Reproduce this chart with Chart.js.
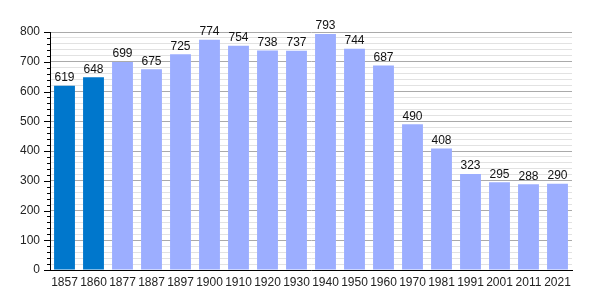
<!DOCTYPE html>
<html>
<head>
<meta charset="utf-8">
<script src="https://cdn.jsdelivr.net/npm/chart.js@4"></script>
<style>
html,body{margin:0;padding:0;background:#fff;}
#wrap{width:600px;height:300px;position:relative;}
</style>
</head>
<body>
<div id="wrap"><canvas id="chart"></canvas></div>
<script>
// population par année de recensement
const years = ["1857","1860","1877","1887","1897","1900","1910","1920","1930","1940","1950","1960","1970","1981","1991","2001","2011","2021"];
const population = [619,648,699,675,725,774,754,738,737,793,744,687,490,408,323,295,288,290];
const yTicks = [0,100,200,300,400,500,600,700,800];

const barColors = years.map(y => (+y < 1870 ? "#0077cc" : "#9caeff"));
const font = "'Liberation Sans', Arial, sans-serif";

const valueLabels = {
  id: "valueLabels",
  afterDatasetsDraw(chart){
    const ctx = chart.ctx, meta = chart.getDatasetMeta(0);
    ctx.save();
    ctx.font = "12px " + font;
    ctx.fillStyle = "#111";
    ctx.textAlign = "center"; ctx.textBaseline = "bottom";
    meta.data.forEach((bar,i)=>{ ctx.fillText(population[i], bar.x, bar.y - 2); });
    ctx.restore();
  }
};

const axisTicks = {
  id: "axisTicks",
  afterDraw(chart){
    const ctx = chart.ctx, y = chart.scales.y, left = chart.chartArea.left;
    ctx.save();
    ctx.strokeStyle = "#000"; ctx.lineWidth = 1;
    for(let v=0; v<=800; v+=20){
      const p = Math.round(y.getPixelForValue(v)) + 0.5;
      const len = v % 100 === 0 ? 6 : 3;
      ctx.beginPath(); ctx.moveTo(left - len, p); ctx.lineTo(left, p); ctx.stroke();
    }
    ctx.restore();
  }
};

new Chart(document.getElementById("chart"),{
  type:"bar",
  data:{labels:years,datasets:[{data:population,backgroundColor:barColors,categoryPercentage:1,barPercentage:0.72}]},
  options:{
    responsive:true, maintainAspectRatio:false, animation:false,
    layout:{padding:{top:32,right:28,left:0,bottom:0}},
    plugins:{legend:{display:false},tooltip:{enabled:false}},
    scales:{
      x:{
        grid:{display:false,drawTicks:false},
        border:{color:"#000",width:1},
        ticks:{color:"#222",font:{family:font,size:12},padding:5,maxRotation:0,autoSkip:false},
        afterFit(s){ s.height = 30; }
      },
      y:{
        min:0,max:800,
        border:{color:"#000",width:1},
        grid:{drawTicks:false,color:c=> c.tick && c.tick.value % 100 === 0 ? "#aaaaaa" : "#e2e2e2"},
        ticks:{stepSize:20,autoSkip:false,padding:10,color:"#222",font:{family:font,size:12},
          callback:v=> yTicks.includes(v) ? v : ""},
        afterFit(s){ s.width = 50; }
      }
    }
  },
  plugins:[valueLabels,axisTicks]
});
</script>
</body>
</html>
